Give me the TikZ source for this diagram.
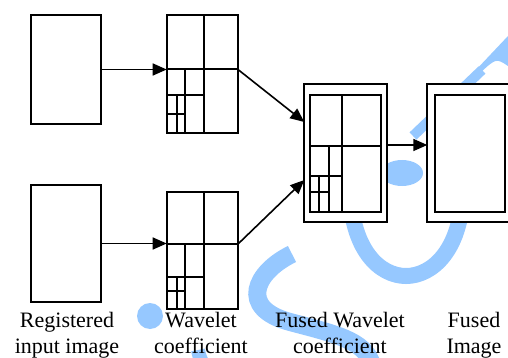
\documentclass[tikz,border=0pt]{standalone}
\usepackage{fontspec}
\setmainfont{Liberation Serif}
\usepackage{tikz}
\usetikzlibrary{arrows.meta}
\definecolor{markBlue}{RGB}{150,200,255}

\begin{document}
\begin{tikzpicture}[x=1pt, y=-1pt, line width=1.8pt, >={Triangle[length=14pt,width=12pt]}]
		\useasboundingbox (0,0) rectangle (508,358);
		% watermark
		\begin{scope}[draw=markBlue, fill=markBlue]
			\clip (0,0) rectangle (508,358);
			\fill (150,316) circle (13pt);
			\fill (402,173) ellipse (21pt and 13pt);
			\draw [line width=16pt] (350,185) .. controls (350,250) and (380,276) .. (406,276) .. controls (432,276) and (463,250) .. (463,185);
			\draw [line width=18pt] (292,254) .. controls (255,272) and (238,308) .. (290,322) .. controls (335,334) and (365,340) .. (372,365);
			\draw [line width=14pt] (372,365) .. controls (380,420) and (210,420) .. (198,350);
			\draw [line width=10pt] (413,136) -- (482,70);
			\fill (474,72) -- (508,36) -- (508,66) .. controls (496,58) .. (478,75) -- cycle;
		\end{scope}
		\begin{scope}[every node/.style={rectangle,draw,fill=white,inner sep=0pt,outer sep=0pt}]
			\node (in1) at (66,69.5) [minimum width=70pt, minimum height=109pt] {};
			\node (in2) at (66,243.5) [minimum width=70pt, minimum height=117pt] {};
			\node (wc1) at (202.2,74) [minimum width=71pt, minimum height=118pt] {};
			\node (wc2) at (202.2,250.6) [minimum width=71pt, minimum height=116.7pt] {};
			\node (fw) at (345.5,152.9) [minimum width=82.4pt, minimum height=137.7pt] {};
			\node (fwi) at (345.3,153.3) [minimum width=70.7pt, minimum height=116.7pt] {};
			\node (fi) at (469.2,152.9) [minimum width=83.8pt, minimum height=137.7pt] {};
			\node (fii) at (470,153.3) [minimum width=70pt, minimum height=116.7pt] {};
		\end{scope}
		% wavelet split, first
		\draw (204,15) -- (204,133);
		\draw (166.7,69.3) -- (237.7,69.3);
		\draw (185,69.3) -- (185,133);
		\draw (166.7,95) -- (204,95);
		\draw (177.3,95) -- (177.3,133);
		\draw (166.7,114.3) -- (185,114.3);
		% wavelet split, second
		\draw (204,192.3) -- (204,309);
		\draw (166.7,244.3) -- (237.7,244.3);
		\draw (185,244.3) -- (185,309);
		\draw (166.7,276.7) -- (204,276.7);
		\draw (177.3,276.7) -- (177.3,309);
		\draw (166.7,291) -- (185,291);
		% fused split
		\draw (342.3,95) -- (342.3,211.7);
		\draw (310,146) -- (380.7,146);
		\draw (329.3,146) -- (329.3,211.7);
		\draw (310,176) -- (342.3,176);
		\draw (319,176) -- (319,211.7);
		\draw (310,191.7) -- (329.3,191.7);

		\coordinate (wc1s) at (237.7,69.3);
		\coordinate (wc2s) at (237.7,244.3);
		\coordinate (fwin1) at (304.3,122);
		\coordinate (fwin2) at (304.3,180);
		\coordinate (fws) at (386.7,145);
		\begin{scope}[every edge/.style={draw,line width=1.6pt}]
			\path [->] (in1.east) edge (in1.east -| wc1.west);
			\path [->] (in2.east) edge (in2.east -| wc2.west);
			\path [->] (wc1s) edge (fwin1);
			\path [->] (wc2s) edge (fwin2);
			\path [->] (fws) edge (fws -| fi.west);
		\end{scope}

		\begin{scope}[every node/.style={align=center,font=\fontsize{22}{26}\selectfont}]
			\node (l1) at (67,353) [anchor=base] {Registered\\input image};
			\node (l2) at (201,353) [anchor=base] {Wavelet\\coefficient};
			\node (l3) at (340,353) [anchor=base] {Fused Wavelet\\coefficient};
			\node (l4) at (474,353) [anchor=base] {Fused\\Image};
		\end{scope}
	\end{tikzpicture}
\end{document}
